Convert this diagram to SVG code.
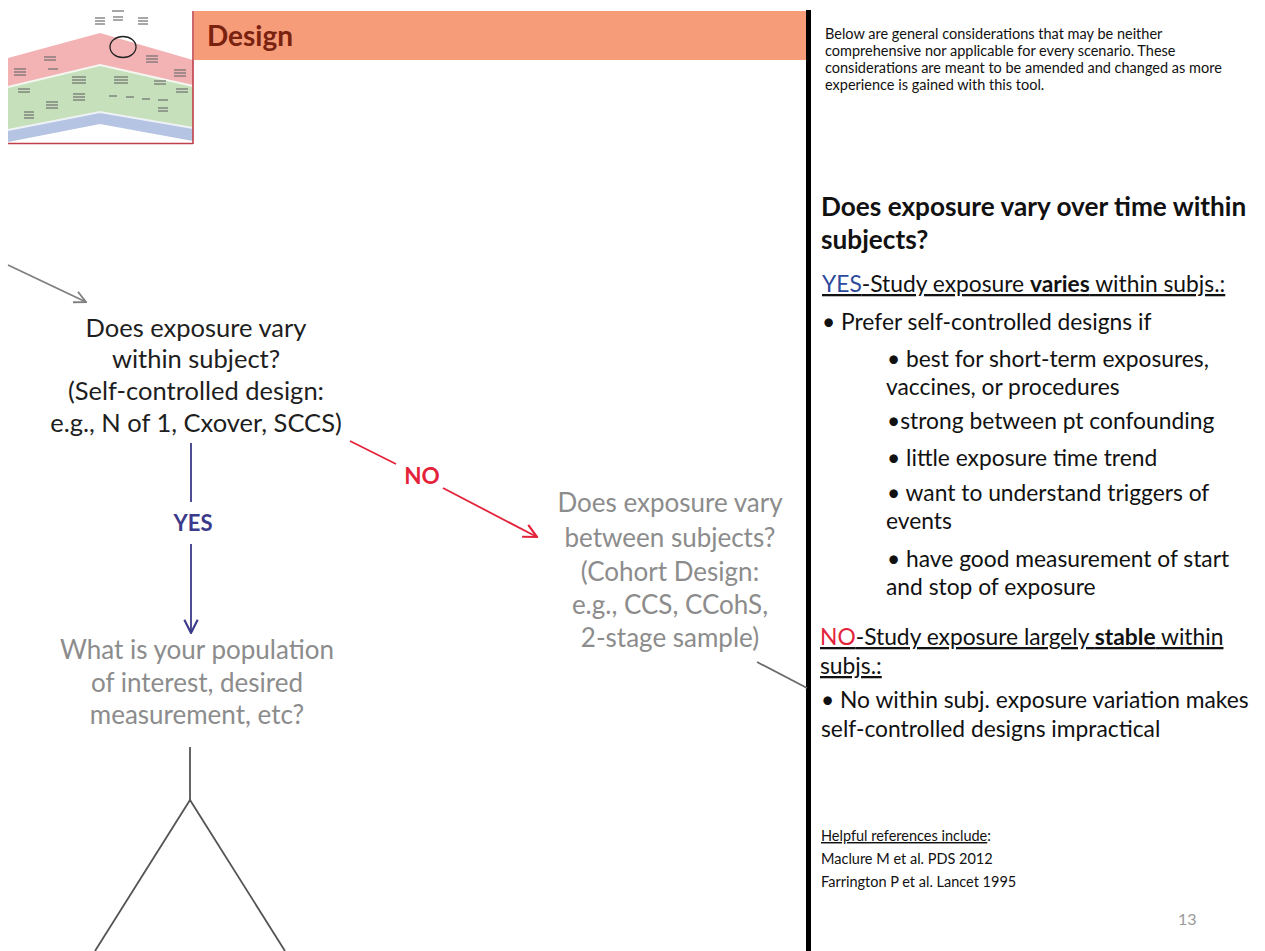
<svg xmlns="http://www.w3.org/2000/svg" width="1265" height="951" viewBox="0 0 1265 951">
  <style>
    .f { font-family: Lato, "Open Sans", "Liberation Sans", sans-serif; }
    .q { font-size: 25.5px; fill: #1e1e1e; text-anchor: middle; }
    .qg { font-size: 26px; fill: #8c8c8c; text-anchor: middle; }
    .body { font-size: 22.8px; fill: #111; }
    .small { font-size: 14.5px; fill: #111; }
    .b { font-weight: bold; }
    .rule { stroke: #6d6d6d; stroke-width: 1.2; }
  </style>
  <defs>
    <marker id="headGray" viewBox="0 0 12 12" refX="11" refY="6" markerWidth="14" markerHeight="14" markerUnits="userSpaceOnUse" orient="auto">
      <path d="M1,1 L11,6 L1,11" fill="none" stroke="#7f7f7f" stroke-width="1.6"/>
    </marker>
    <marker id="headNavy" viewBox="0 0 12 12" refX="11" refY="6" markerWidth="16" markerHeight="16" markerUnits="userSpaceOnUse" orient="auto">
      <path d="M1,1 L11,6 L1,11" fill="none" stroke="#3c3a8a" stroke-width="1.6"/>
    </marker>
    <marker id="headRed" viewBox="0 0 12 12" refX="11" refY="6" markerWidth="16" markerHeight="16" markerUnits="userSpaceOnUse" orient="auto">
      <path d="M1,1 L11,6 L1,11" fill="none" stroke="#e4233a" stroke-width="1.6"/>
    </marker>
  </defs>

  <rect width="1265" height="951" fill="#ffffff"/>

  <!-- overview thumbnail of the full decision tree -->
  <g id="thumbnail">
    <polygon points="8,58 100,33 193,60 193,86 100,65 8,87" fill="#f3b3b4"/>
    <polygon points="8,87 100,65 193,86 193,128 100,112 8,130" fill="#c6e0bb"/>
    <polygon points="8,130 100,112 193,128 193,141 100,124 8,142" fill="#b4c4e2"/>
    <polyline points="8,87 100,65 193,86" fill="none" stroke="#f4f7f0" stroke-width="2"/>
    <polyline points="8,130 100,112 193,128" fill="none" stroke="#eef2f7" stroke-width="2"/>
    <ellipse cx="123" cy="47" rx="13" ry="10.5" fill="none" stroke="#222" stroke-width="1.3"/>
    <g class="rule">
      <line x1="112" y1="11" x2="124" y2="11"/>
      <line x1="95" y1="18" x2="105" y2="18"/><line x1="95" y1="21" x2="105" y2="21"/><line x1="95" y1="24" x2="105" y2="24"/>
      <line x1="113" y1="17" x2="123" y2="17"/><line x1="113" y1="20" x2="123" y2="20"/>
      <line x1="138" y1="18" x2="148" y2="18"/><line x1="138" y1="21" x2="148" y2="21"/><line x1="138" y1="24" x2="148" y2="24"/>
      <line x1="44" y1="57" x2="56" y2="57"/><line x1="44" y1="60" x2="56" y2="60"/>
      <line x1="146" y1="56" x2="158" y2="56"/><line x1="146" y1="59" x2="158" y2="59"/><line x1="146" y1="62" x2="158" y2="62"/>
      <line x1="14" y1="69" x2="26" y2="69"/><line x1="14" y1="72" x2="26" y2="72"/><line x1="14" y1="75" x2="26" y2="75"/>
      <line x1="174" y1="70" x2="186" y2="70"/><line x1="174" y1="73" x2="186" y2="73"/><line x1="174" y1="76" x2="186" y2="76"/>
      <line x1="48" y1="69" x2="58" y2="69"/>
      <line x1="72" y1="77" x2="86" y2="77"/><line x1="72" y1="80" x2="86" y2="80"/><line x1="72" y1="83" x2="86" y2="83"/>
      <line x1="114" y1="77" x2="128" y2="77"/><line x1="114" y1="80" x2="128" y2="80"/><line x1="114" y1="83" x2="128" y2="83"/>
      <line x1="154" y1="81" x2="166" y2="81"/><line x1="154" y1="84" x2="166" y2="84"/>
      <line x1="18" y1="89" x2="30" y2="89"/><line x1="18" y1="92" x2="30" y2="92"/>
      <line x1="176" y1="89" x2="188" y2="89"/><line x1="176" y1="92" x2="188" y2="92"/>
      <line x1="73" y1="94" x2="85" y2="94"/><line x1="73" y1="97" x2="85" y2="97"/><line x1="73" y1="100" x2="85" y2="100"/>
      <line x1="46" y1="102" x2="58" y2="102"/><line x1="46" y1="105" x2="58" y2="105"/><line x1="46" y1="108" x2="58" y2="108"/>
      <line x1="109" y1="96" x2="117" y2="96"/><line x1="126" y1="97" x2="134" y2="97"/>
      <line x1="142" y1="99" x2="150" y2="99"/><line x1="158" y1="100" x2="168" y2="100"/>
      <line x1="158" y1="108" x2="168" y2="108"/><line x1="158" y1="111" x2="168" y2="111"/>
      <line x1="24" y1="112" x2="34" y2="112"/><line x1="24" y1="115" x2="34" y2="115"/><line x1="24" y1="118" x2="34" y2="118"/>
    </g>
    <line x1="8" y1="143.5" x2="193" y2="143.5" stroke="#c0404a" stroke-width="1.6"/>
    <line x1="193" y1="11" x2="193" y2="144" stroke="#c0404a" stroke-width="1.6"/>
  </g>

  <!-- section header -->
  <g id="header">
    <rect x="194" y="11" width="612" height="49" fill="#f69c78"/>
    <text class="f b" x="207" y="46" font-size="28" fill="#7a2210">Design</text>
  </g>

  <!-- panel divider -->
  <rect x="806" y="10" width="5" height="941" fill="#000"/>

  <!-- flow connectors -->
  <g id="connectors" fill="none" stroke-width="1.8">
    <line x1="8" y1="265" x2="86" y2="302" stroke="#7f7f7f" marker-end="url(#headGray)"/>
    <line x1="191" y1="443" x2="191" y2="502" stroke="#3c3a8a"/>
    <line x1="191" y1="544" x2="191" y2="633" stroke="#3c3a8a" marker-end="url(#headNavy)"/>
    <line x1="350" y1="441" x2="396" y2="464" stroke="#e4233a"/>
    <line x1="443" y1="488" x2="537" y2="537" stroke="#e4233a" marker-end="url(#headRed)"/>
    <line x1="757" y1="662" x2="807" y2="688" stroke="#6a6a6a"/>
    <polyline points="95,951 190,800 285,951" stroke="#555"/>
    <line x1="190" y1="747" x2="190" y2="800" stroke="#555"/>
  </g>

  <!-- connector labels -->
  <g id="labels" class="f b">
    <text x="193" y="531" font-size="22" fill="#3c3a8a" text-anchor="middle">YES</text>
    <text x="422" y="484" font-size="22.5" fill="#e4233a" text-anchor="middle">NO</text>
  </g>

  <g id="node-within">
    <text class="f q" x="196" y="337">Does exposure vary</text>
    <text class="f q" x="196" y="368">within subject?</text>
    <text class="f q" x="196" y="400">(Self-controlled design:</text>
    <text class="f q" x="196" y="432">e.g., N of 1, Cxover, SCCS)</text>
  </g>

  <g id="node-population">
    <text class="f qg" x="197" y="659">What is your population</text>
    <text class="f qg" x="197" y="692">of interest, desired</text>
    <text class="f qg" x="197" y="724">measurement, etc?</text>
  </g>

  <g id="node-between">
    <text class="f qg" x="670" y="512">Does exposure vary</text>
    <text class="f qg" x="670" y="547">between subjects?</text>
    <text class="f qg" x="670" y="581">(Cohort Design:</text>
    <text class="f qg" x="670" y="614">e.g., CCS, CCohS,</text>
    <text class="f qg" x="670" y="647">2-stage sample)</text>
  </g>

  <!-- side notes -->
  <g id="notes" class="f">
    <text class="small" x="825" y="39">Below are general considerations that may be neither</text>
    <text class="small" x="825" y="56">comprehensive nor applicable for every scenario. These</text>
    <text class="small" x="825" y="73">considerations are meant to be amended and changed as more</text>
    <text class="small" x="825" y="90">experience is gained with this tool.</text>

    <text class="b" x="821" y="216" font-size="26.2" fill="#111">Does exposure vary over time within</text>
    <text class="b" x="821" y="249" font-size="26.2" fill="#111">subjects?</text>

    <text class="body" x="822" y="292" text-decoration="underline"><tspan fill="#2d4a9c">YES</tspan>-Study exposure <tspan class="b">varies</tspan> within subjs.:</text>
    <text class="body" x="822" y="330">• Prefer self-controlled designs if</text>
    <text class="body" x="887" y="367">•  best for short-term exposures,</text>
    <text class="body" x="886" y="395">vaccines, or procedures</text>
    <text class="body" x="887" y="429">•strong between pt confounding</text>
    <text class="body" x="887" y="466">• little exposure time trend</text>
    <text class="body" x="887" y="501">• want to understand triggers of</text>
    <text class="body" x="886" y="529">events</text>
    <text class="body" x="887" y="567">• have good measurement of start</text>
    <text class="body" x="886" y="595">and stop of exposure</text>

    <text class="body" x="820" y="645" text-decoration="underline"><tspan fill="#e4233a">NO</tspan>-Study exposure largely <tspan class="b">stable</tspan> within</text>
    <text class="body" x="820" y="674" text-decoration="underline">subjs.:</text>
    <text class="body" x="821" y="708">• No within subj. exposure variation makes</text>
    <text class="body" x="821" y="737">self-controlled designs impractical</text>

    <text class="small" x="821" y="841"><tspan text-decoration="underline">Helpful references include</tspan>:</text>
    <text class="small" x="821" y="864">Maclure M et al. PDS 2012</text>
    <text class="small" x="821" y="887">Farrington P et al. Lancet 1995</text>

    <text x="1178" y="925" font-size="16" fill="#9a9a9a">13</text>
  </g>
</svg>
